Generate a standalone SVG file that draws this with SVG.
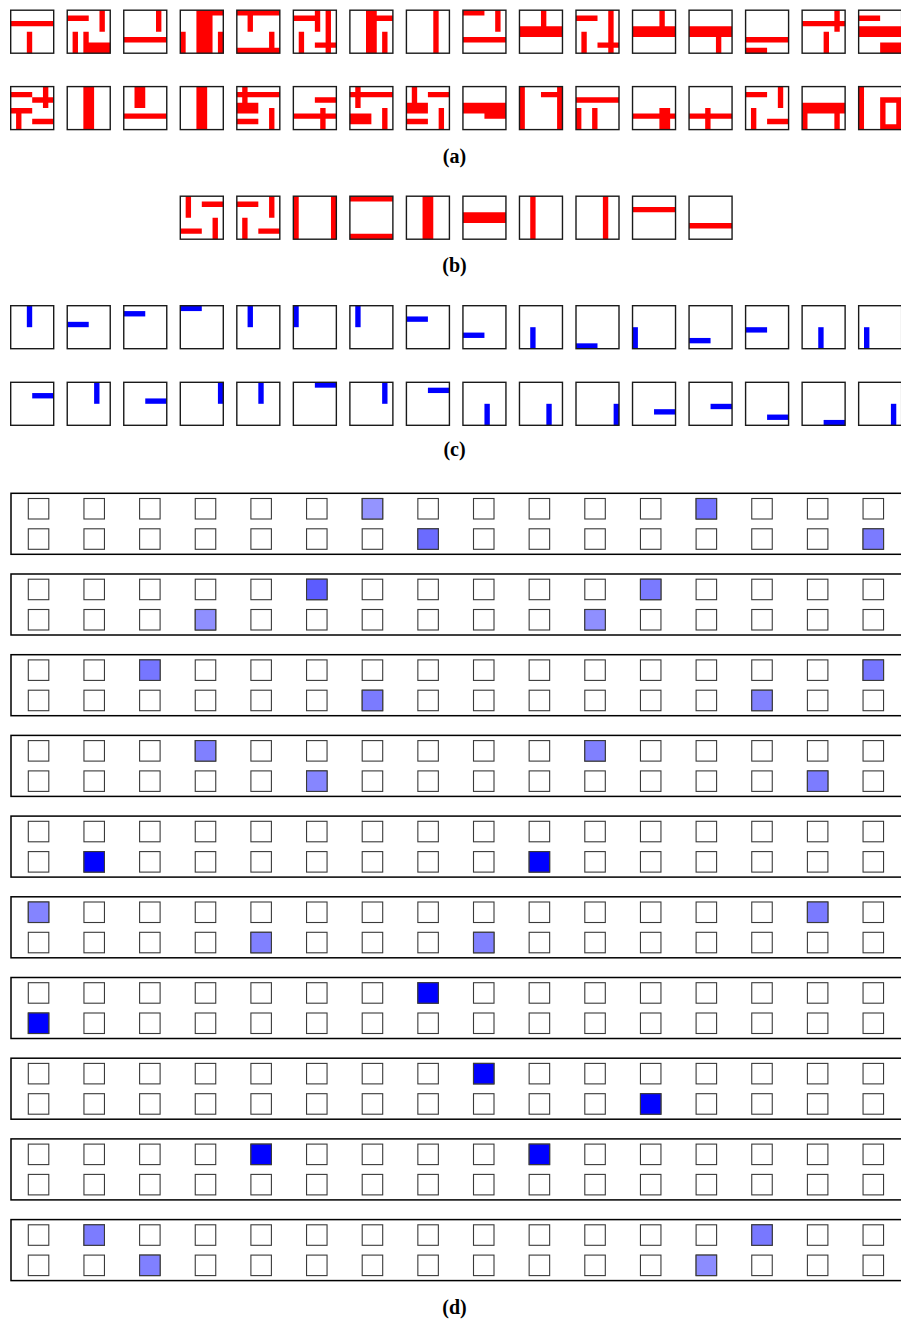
<svg xmlns="http://www.w3.org/2000/svg" xmlns:xlink="http://www.w3.org/1999/xlink" width="901" height="1320" viewBox="0 0 901 1320">
<style>
.fr{fill:none;stroke:#1a1a1a;stroke-width:1.4}
.r{fill:#ff0000}
.b{fill:#0000ff}
.ds{fill:#ffffff;stroke:#3a3a3a;stroke-width:1.1}
.pn{fill:#ffffff;stroke:#000000;stroke-width:1.5}
.lb{font-family:"Liberation Serif","Times New Roman",serif;font-weight:bold;font-size:20px;text-anchor:middle;fill:#000}
</style>
<defs>
<g id="drow">
<rect class="ds" x="28.3" y="0" width="20.5" height="20.5"/>
<rect class="ds" x="83.95" y="0" width="20.5" height="20.5"/>
<rect class="ds" x="139.6" y="0" width="20.5" height="20.5"/>
<rect class="ds" x="195.25" y="0" width="20.5" height="20.5"/>
<rect class="ds" x="250.9" y="0" width="20.5" height="20.5"/>
<rect class="ds" x="306.55" y="0" width="20.5" height="20.5"/>
<rect class="ds" x="362.2" y="0" width="20.5" height="20.5"/>
<rect class="ds" x="417.85" y="0" width="20.5" height="20.5"/>
<rect class="ds" x="473.5" y="0" width="20.5" height="20.5"/>
<rect class="ds" x="529.15" y="0" width="20.5" height="20.5"/>
<rect class="ds" x="584.8" y="0" width="20.5" height="20.5"/>
<rect class="ds" x="640.45" y="0" width="20.5" height="20.5"/>
<rect class="ds" x="696.1" y="0" width="20.5" height="20.5"/>
<rect class="ds" x="751.75" y="0" width="20.5" height="20.5"/>
<rect class="ds" x="807.4" y="0" width="20.5" height="20.5"/>
<rect class="ds" x="863.05" y="0" width="20.5" height="20.5"/>
</g>
</defs>
<rect x="0" y="0" width="901" height="1320" fill="#ffffff"/>

<!-- (a) row 1 -->
<g id="a01"><path class="r" transform="translate(10.7 10.2) scale(5.375)" d="M0 2h8v1h-8z M3 4h1v4h-1z"/><rect class="fr" x="10.7" y="10.2" width="43" height="43"/></g>
<g id="a02"><path class="r" transform="translate(67.23 10.2) scale(5.375)" d="M0 1h4v1h-4z M6 0h1v4h-1z M1 4h1v4h-1z M3 4h1v4h-1z M3 6h5v2h-5z"/><rect class="fr" x="67.23" y="10.2" width="43" height="43"/></g>
<g id="a03"><path class="r" transform="translate(123.76 10.2) scale(5.375)" d="M6 0h1v4h-1z M0 5h8v1h-8z"/><rect class="fr" x="123.76" y="10.2" width="43" height="43"/></g>
<g id="a04"><path class="r" transform="translate(180.29 10.2) scale(5.375)" d="M3 0h3v8h-3z M3 0h5v1h-5z M0 4h1v4h-1z M7 4h1v4h-1z"/><rect class="fr" x="180.29" y="10.2" width="43" height="43"/></g>
<g id="a05"><path class="r" transform="translate(236.82 10.2) scale(5.375)" d="M0 0h8v1h-8z M2 0h1v4h-1z M6 4h1v3h-1z M0 7h8v1h-8z"/><rect class="fr" x="236.82" y="10.2" width="43" height="43"/></g>
<g id="a06"><path class="r" transform="translate(293.35 10.2) scale(5.375)" d="M0 1h5v1h-5z M4 0h1v4h-1z M6 0h1v8h-1z M1 4h1v4h-1z M4 6h4v1h-4z"/><rect class="fr" x="293.35" y="10.2" width="43" height="43"/></g>
<g id="a07"><path class="r" transform="translate(349.88 10.2) scale(5.375)" d="M3 0h2v8h-2z M5 1h3v1h-3z M6 4h1v4h-1z"/><rect class="fr" x="349.88" y="10.2" width="43" height="43"/></g>
<g id="a08"><path class="r" transform="translate(406.41 10.2) scale(5.375)" d="M5 0h1v8h-1z"/><rect class="fr" x="406.41" y="10.2" width="43" height="43"/></g>
<g id="a09"><path class="r" transform="translate(462.94 10.2) scale(5.375)" d="M0 0h4v1h-4z M6 0h1v4h-1z M0 5h8v1h-8z"/><rect class="fr" x="462.94" y="10.2" width="43" height="43"/></g>
<g id="a10"><path class="r" transform="translate(519.47 10.2) scale(5.375)" d="M4 0h1v3h-1z M0 3h8v2h-8z"/><rect class="fr" x="519.47" y="10.2" width="43" height="43"/></g>
<g id="a11"><path class="r" transform="translate(576 10.2) scale(5.375)" d="M0 1h4v1h-4z M6 0h1v8h-1z M1 4h1v4h-1z M4 6h4v1h-4z"/><rect class="fr" x="576" y="10.2" width="43" height="43"/></g>
<g id="a12"><path class="r" transform="translate(632.53 10.2) scale(5.375)" d="M5 0h1v3h-1z M0 3h8v2h-8z"/><rect class="fr" x="632.53" y="10.2" width="43" height="43"/></g>
<g id="a13"><path class="r" transform="translate(689.06 10.2) scale(5.375)" d="M0 3h8v2h-8z M5 5h1v3h-1z"/><rect class="fr" x="689.06" y="10.2" width="43" height="43"/></g>
<g id="a14"><path class="r" transform="translate(745.59 10.2) scale(5.375)" d="M0 5h8v1h-8z M0 7h4v1h-4z"/><rect class="fr" x="745.59" y="10.2" width="43" height="43"/></g>
<g id="a15"><path class="r" transform="translate(802.12 10.2) scale(5.375)" d="M0 2h8v1h-8z M6 0h1v4h-1z M4 4h1v4h-1z"/><rect class="fr" x="802.12" y="10.2" width="43" height="43"/></g>
<g id="a16"><path class="r" transform="translate(858.65 10.2) scale(5.375)" d="M0 1h4v1h-4z M0 3h8v2h-8z M4 6h4v2h-4z"/><rect class="fr" x="858.65" y="10.2" width="43" height="43"/></g>

<!-- (a) row 2 -->
<g id="a17"><path class="r" transform="translate(10.7 86.6) scale(5.375)" d="M0 1h4v1h-4z M6 0h1v4h-1z M4 2h4v1h-4z M0 4h4v1h-4z M1 4h1v4h-1z M4 6h4v1h-4z"/><rect class="fr" x="10.7" y="86.6" width="43" height="43"/></g>
<g id="a18"><path class="r" transform="translate(67.23 86.6) scale(5.375)" d="M3 0h2v8h-2z"/><rect class="fr" x="67.23" y="86.6" width="43" height="43"/></g>
<g id="a19"><path class="r" transform="translate(123.76 86.6) scale(5.375)" d="M2 0h2v4h-2z M0 5h8v1h-8z"/><rect class="fr" x="123.76" y="86.6" width="43" height="43"/></g>
<g id="a20"><path class="r" transform="translate(180.29 86.6) scale(5.375)" d="M3 0h2v8h-2z"/><rect class="fr" x="180.29" y="86.6" width="43" height="43"/></g>
<g id="a21"><path class="r" transform="translate(236.82 86.6) scale(5.375)" d="M0 1h8v1h-8z M1 0h1v3h-1z M0 3h4v2h-4z M0 6h4v1h-4z M6 4h1v4h-1z"/><rect class="fr" x="236.82" y="86.6" width="43" height="43"/></g>
<g id="a22"><path class="r" transform="translate(293.35 86.6) scale(5.375)" d="M4 2h4v1h-4z M0 5h8v1h-8z M5 4h1v4h-1z"/><rect class="fr" x="293.35" y="86.6" width="43" height="43"/></g>
<g id="a23"><path class="r" transform="translate(349.88 86.6) scale(5.375)" d="M0 1h8v1h-8z M1 0h1v4h-1z M0 5h4v2h-4z M6 4h1v4h-1z"/><rect class="fr" x="349.88" y="86.6" width="43" height="43"/></g>
<g id="a24"><path class="r" transform="translate(406.41 86.6) scale(5.375)" d="M1 0h1v3h-1z M4 1h4v1h-4z M0 3h4v2h-4z M0 6h4v1h-4z M6 4h1v4h-1z"/><rect class="fr" x="406.41" y="86.6" width="43" height="43"/></g>
<g id="a25"><path class="r" transform="translate(462.94 86.6) scale(5.375)" d="M0 3h8v2h-8z M4 3h4v3h-4z"/><rect class="fr" x="462.94" y="86.6" width="43" height="43"/></g>
<g id="a26"><path class="r" transform="translate(519.47 86.6) scale(5.375)" d="M0 0h1v8h-1z M7 0h1v8h-1z M4 1h4v1h-4z"/><rect class="fr" x="519.47" y="86.6" width="43" height="43"/></g>
<g id="a27"><path class="r" transform="translate(576 86.6) scale(5.375)" d="M0 2h8v1h-8z M0 4h1v4h-1z M3 4h1v4h-1z"/><rect class="fr" x="576" y="86.6" width="43" height="43"/></g>
<g id="a28"><path class="r" transform="translate(632.53 86.6) scale(5.375)" d="M0 5h8v1h-8z M5 4h2v4h-2z"/><rect class="fr" x="632.53" y="86.6" width="43" height="43"/></g>
<g id="a29"><path class="r" transform="translate(689.06 86.6) scale(5.375)" d="M0 5h8v1h-8z M3 4h1v4h-1z"/><rect class="fr" x="689.06" y="86.6" width="43" height="43"/></g>
<g id="a30"><path class="r" transform="translate(745.59 86.6) scale(5.375)" d="M0 1h4v1h-4z M6 0h1v4h-1z M1 4h1v4h-1z M4 6h4v1h-4z"/><rect class="fr" x="745.59" y="86.6" width="43" height="43"/></g>
<g id="a31"><path class="r" transform="translate(802.12 86.6) scale(5.375)" d="M0 3h8v2h-8z M0 5h1v3h-1z M6 5h1v3h-1z"/><rect class="fr" x="802.12" y="86.6" width="43" height="43"/></g>
<g id="a32"><path class="r" transform="translate(858.65 86.6) scale(5.375)" d="M0 0h1v8h-1z M4 2h4v1h-4z M4 2h1v6h-1z M7 2h1v6h-1z M4 7h4v1h-4z"/><rect class="fr" x="858.65" y="86.6" width="43" height="43"/></g>
<text class="lb" x="454.5" y="162.5">(a)</text>

<!-- (b) -->
<g id="b01"><path class="r" transform="translate(180.29 196.2) scale(5.375)" d="M1 0h1v4h-1z M4 1h4v1h-4z M0 6h4v1h-4z M6 4h1v4h-1z"/><rect class="fr" x="180.29" y="196.2" width="43" height="43"/></g>
<g id="b02"><path class="r" transform="translate(236.82 196.2) scale(5.375)" d="M0 1h4v1h-4z M6 0h1v4h-1z M1 4h1v4h-1z M4 6h4v1h-4z"/><rect class="fr" x="236.82" y="196.2" width="43" height="43"/></g>
<g id="b03"><path class="r" transform="translate(293.35 196.2) scale(5.375)" d="M0 0h1v8h-1z M7 0h1v8h-1z"/><rect class="fr" x="293.35" y="196.2" width="43" height="43"/></g>
<g id="b04"><path class="r" transform="translate(349.88 196.2) scale(5.375)" d="M0 0h8v1h-8z M0 7h8v1h-8z"/><rect class="fr" x="349.88" y="196.2" width="43" height="43"/></g>
<g id="b05"><path class="r" transform="translate(406.41 196.2) scale(5.375)" d="M3 0h2v8h-2z"/><rect class="fr" x="406.41" y="196.2" width="43" height="43"/></g>
<g id="b06"><path class="r" transform="translate(462.94 196.2) scale(5.375)" d="M0 3h8v2h-8z"/><rect class="fr" x="462.94" y="196.2" width="43" height="43"/></g>
<g id="b07"><path class="r" transform="translate(519.47 196.2) scale(5.375)" d="M2 0h1v8h-1z"/><rect class="fr" x="519.47" y="196.2" width="43" height="43"/></g>
<g id="b08"><path class="r" transform="translate(576 196.2) scale(5.375)" d="M5 0h1v8h-1z"/><rect class="fr" x="576" y="196.2" width="43" height="43"/></g>
<g id="b09"><path class="r" transform="translate(632.53 196.2) scale(5.375)" d="M0 2h8v1h-8z"/><rect class="fr" x="632.53" y="196.2" width="43" height="43"/></g>
<g id="b10"><path class="r" transform="translate(689.06 196.2) scale(5.375)" d="M0 5h8v1h-8z"/><rect class="fr" x="689.06" y="196.2" width="43" height="43"/></g>
<text class="lb" x="454.5" y="271.5">(b)</text>

<!-- (c) row 1 -->
<g id="c01"><path class="b" transform="translate(10.7 305.7) scale(5.375)" d="M3 0h1v4h-1z"/><rect class="fr" x="10.7" y="305.7" width="43" height="43"/></g>
<g id="c02"><path class="b" transform="translate(67.23 305.7) scale(5.375)" d="M0 3h4v1h-4z"/><rect class="fr" x="67.23" y="305.7" width="43" height="43"/></g>
<g id="c03"><path class="b" transform="translate(123.76 305.7) scale(5.375)" d="M0 1h4v1h-4z"/><rect class="fr" x="123.76" y="305.7" width="43" height="43"/></g>
<g id="c04"><path class="b" transform="translate(180.29 305.7) scale(5.375)" d="M0 0h4v1h-4z"/><rect class="fr" x="180.29" y="305.7" width="43" height="43"/></g>
<g id="c05"><path class="b" transform="translate(236.82 305.7) scale(5.375)" d="M2 0h1v4h-1z"/><rect class="fr" x="236.82" y="305.7" width="43" height="43"/></g>
<g id="c06"><path class="b" transform="translate(293.35 305.7) scale(5.375)" d="M0 0h1v4h-1z"/><rect class="fr" x="293.35" y="305.7" width="43" height="43"/></g>
<g id="c07"><path class="b" transform="translate(349.88 305.7) scale(5.375)" d="M1 0h1v4h-1z"/><rect class="fr" x="349.88" y="305.7" width="43" height="43"/></g>
<g id="c08"><path class="b" transform="translate(406.41 305.7) scale(5.375)" d="M0 2h4v1h-4z"/><rect class="fr" x="406.41" y="305.7" width="43" height="43"/></g>
<g id="c09"><path class="b" transform="translate(462.94 305.7) scale(5.375)" d="M0 5h4v1h-4z"/><rect class="fr" x="462.94" y="305.7" width="43" height="43"/></g>
<g id="c10"><path class="b" transform="translate(519.47 305.7) scale(5.375)" d="M2 4h1v4h-1z"/><rect class="fr" x="519.47" y="305.7" width="43" height="43"/></g>
<g id="c11"><path class="b" transform="translate(576 305.7) scale(5.375)" d="M0 7h4v1h-4z"/><rect class="fr" x="576" y="305.7" width="43" height="43"/></g>
<g id="c12"><path class="b" transform="translate(632.53 305.7) scale(5.375)" d="M0 4h1v4h-1z"/><rect class="fr" x="632.53" y="305.7" width="43" height="43"/></g>
<g id="c13"><path class="b" transform="translate(689.06 305.7) scale(5.375)" d="M0 6h4v1h-4z"/><rect class="fr" x="689.06" y="305.7" width="43" height="43"/></g>
<g id="c14"><path class="b" transform="translate(745.59 305.7) scale(5.375)" d="M0 4h4v1h-4z"/><rect class="fr" x="745.59" y="305.7" width="43" height="43"/></g>
<g id="c15"><path class="b" transform="translate(802.12 305.7) scale(5.375)" d="M3 4h1v4h-1z"/><rect class="fr" x="802.12" y="305.7" width="43" height="43"/></g>
<g id="c16"><path class="b" transform="translate(858.65 305.7) scale(5.375)" d="M1 4h1v4h-1z"/><rect class="fr" x="858.65" y="305.7" width="43" height="43"/></g>

<!-- (c) row 2 -->
<g id="c17"><path class="b" transform="translate(10.7 382.3) scale(5.375)" d="M4 2h4v1h-4z"/><rect class="fr" x="10.7" y="382.3" width="43" height="43"/></g>
<g id="c18"><path class="b" transform="translate(67.23 382.3) scale(5.375)" d="M5 0h1v4h-1z"/><rect class="fr" x="67.23" y="382.3" width="43" height="43"/></g>
<g id="c19"><path class="b" transform="translate(123.76 382.3) scale(5.375)" d="M4 3h4v1h-4z"/><rect class="fr" x="123.76" y="382.3" width="43" height="43"/></g>
<g id="c20"><path class="b" transform="translate(180.29 382.3) scale(5.375)" d="M7 0h1v4h-1z"/><rect class="fr" x="180.29" y="382.3" width="43" height="43"/></g>
<g id="c21"><path class="b" transform="translate(236.82 382.3) scale(5.375)" d="M4 0h1v4h-1z"/><rect class="fr" x="236.82" y="382.3" width="43" height="43"/></g>
<g id="c22"><path class="b" transform="translate(293.35 382.3) scale(5.375)" d="M4 0h4v1h-4z"/><rect class="fr" x="293.35" y="382.3" width="43" height="43"/></g>
<g id="c23"><path class="b" transform="translate(349.88 382.3) scale(5.375)" d="M6 0h1v4h-1z"/><rect class="fr" x="349.88" y="382.3" width="43" height="43"/></g>
<g id="c24"><path class="b" transform="translate(406.41 382.3) scale(5.375)" d="M4 1h4v1h-4z"/><rect class="fr" x="406.41" y="382.3" width="43" height="43"/></g>
<g id="c25"><path class="b" transform="translate(462.94 382.3) scale(5.375)" d="M4 4h1v4h-1z"/><rect class="fr" x="462.94" y="382.3" width="43" height="43"/></g>
<g id="c26"><path class="b" transform="translate(519.47 382.3) scale(5.375)" d="M5 4h1v4h-1z"/><rect class="fr" x="519.47" y="382.3" width="43" height="43"/></g>
<g id="c27"><path class="b" transform="translate(576 382.3) scale(5.375)" d="M7 4h1v4h-1z"/><rect class="fr" x="576" y="382.3" width="43" height="43"/></g>
<g id="c28"><path class="b" transform="translate(632.53 382.3) scale(5.375)" d="M4 5h4v1h-4z"/><rect class="fr" x="632.53" y="382.3" width="43" height="43"/></g>
<g id="c29"><path class="b" transform="translate(689.06 382.3) scale(5.375)" d="M4 4h4v1h-4z"/><rect class="fr" x="689.06" y="382.3" width="43" height="43"/></g>
<g id="c30"><path class="b" transform="translate(745.59 382.3) scale(5.375)" d="M4 6h4v1h-4z"/><rect class="fr" x="745.59" y="382.3" width="43" height="43"/></g>
<g id="c31"><path class="b" transform="translate(802.12 382.3) scale(5.375)" d="M4 7h4v1h-4z"/><rect class="fr" x="802.12" y="382.3" width="43" height="43"/></g>
<g id="c32"><path class="b" transform="translate(858.65 382.3) scale(5.375)" d="M6 4h1v4h-1z"/><rect class="fr" x="858.65" y="382.3" width="43" height="43"/></g>
<text class="lb" x="454.5" y="456">(c)</text>

<!-- (d) -->
<g id="d01"><rect class="pn" x="11" y="493.3" width="900" height="61"/><use xlink:href="#drow" href="#drow" y="498.5"/><use xlink:href="#drow" href="#drow" y="528.8"/>
<rect class="ds" style="fill:#9494ff" x="362.2" y="498.5" width="20.5" height="20.5"/><rect class="ds" style="fill:#7373ff" x="696.1" y="498.5" width="20.5" height="20.5"/>
<rect class="ds" style="fill:#6b6bff" x="417.85" y="528.8" width="20.5" height="20.5"/><rect class="ds" style="fill:#7b7bff" x="863.05" y="528.8" width="20.5" height="20.5"/></g>
<g id="d02"><rect class="pn" x="11" y="574" width="900" height="61"/><use xlink:href="#drow" href="#drow" y="579.2"/><use xlink:href="#drow" href="#drow" y="609.5"/>
<rect class="ds" style="fill:#5c5cff" x="306.55" y="579.2" width="20.5" height="20.5"/><rect class="ds" style="fill:#7a7aff" x="640.45" y="579.2" width="20.5" height="20.5"/>
<rect class="ds" style="fill:#8f8fff" x="195.25" y="609.5" width="20.5" height="20.5"/><rect class="ds" style="fill:#8f8fff" x="584.8" y="609.5" width="20.5" height="20.5"/></g>
<g id="d03"><rect class="pn" x="11" y="654.7" width="900" height="61"/><use xlink:href="#drow" href="#drow" y="659.9"/><use xlink:href="#drow" href="#drow" y="690.2"/>
<rect class="ds" style="fill:#7676ff" x="139.6" y="659.9" width="20.5" height="20.5"/><rect class="ds" style="fill:#7676ff" x="863.05" y="659.9" width="20.5" height="20.5"/>
<rect class="ds" style="fill:#7b7bff" x="362.2" y="690.2" width="20.5" height="20.5"/><rect class="ds" style="fill:#8181ff" x="751.75" y="690.2" width="20.5" height="20.5"/></g>
<g id="d04"><rect class="pn" x="11" y="735.4" width="900" height="61"/><use xlink:href="#drow" href="#drow" y="740.6"/><use xlink:href="#drow" href="#drow" y="770.9"/>
<rect class="ds" style="fill:#8080ff" x="195.25" y="740.6" width="20.5" height="20.5"/><rect class="ds" style="fill:#8080ff" x="584.8" y="740.6" width="20.5" height="20.5"/>
<rect class="ds" style="fill:#8686ff" x="306.55" y="770.9" width="20.5" height="20.5"/><rect class="ds" style="fill:#7c7cff" x="807.4" y="770.9" width="20.5" height="20.5"/></g>
<g id="d05"><rect class="pn" x="11" y="816.1" width="900" height="61"/><use xlink:href="#drow" href="#drow" y="821.3"/><use xlink:href="#drow" href="#drow" y="851.6"/>
<rect class="ds" style="fill:#0000ff" x="83.95" y="851.6" width="20.5" height="20.5"/><rect class="ds" style="fill:#0000ff" x="529.15" y="851.6" width="20.5" height="20.5"/></g>
<g id="d06"><rect class="pn" x="11" y="896.8" width="900" height="61"/><use xlink:href="#drow" href="#drow" y="902"/><use xlink:href="#drow" href="#drow" y="932.3"/>
<rect class="ds" style="fill:#8484ff" x="28.3" y="902" width="20.5" height="20.5"/><rect class="ds" style="fill:#7a7aff" x="807.4" y="902" width="20.5" height="20.5"/>
<rect class="ds" style="fill:#8080ff" x="250.9" y="932.3" width="20.5" height="20.5"/><rect class="ds" style="fill:#8080ff" x="473.5" y="932.3" width="20.5" height="20.5"/></g>
<g id="d07"><rect class="pn" x="11" y="977.5" width="900" height="61"/><use xlink:href="#drow" href="#drow" y="982.7"/><use xlink:href="#drow" href="#drow" y="1013"/>
<rect class="ds" style="fill:#0000ff" x="417.85" y="982.7" width="20.5" height="20.5"/>
<rect class="ds" style="fill:#0000ff" x="28.3" y="1013" width="20.5" height="20.5"/></g>
<g id="d08"><rect class="pn" x="11" y="1058.2" width="900" height="61"/><use xlink:href="#drow" href="#drow" y="1063.4"/><use xlink:href="#drow" href="#drow" y="1093.7"/>
<rect class="ds" style="fill:#0000ff" x="473.5" y="1063.4" width="20.5" height="20.5"/>
<rect class="ds" style="fill:#0000ff" x="640.45" y="1093.7" width="20.5" height="20.5"/></g>
<g id="d09"><rect class="pn" x="11" y="1138.9" width="900" height="61"/><use xlink:href="#drow" href="#drow" y="1144.1"/><use xlink:href="#drow" href="#drow" y="1174.4"/>
<rect class="ds" style="fill:#0000ff" x="250.9" y="1144.1" width="20.5" height="20.5"/><rect class="ds" style="fill:#0000ff" x="529.15" y="1144.1" width="20.5" height="20.5"/></g>
<g id="d10"><rect class="pn" x="11" y="1219.6" width="900" height="61"/><use xlink:href="#drow" href="#drow" y="1224.8"/><use xlink:href="#drow" href="#drow" y="1255.1"/>
<rect class="ds" style="fill:#7c7cff" x="83.95" y="1224.8" width="20.5" height="20.5"/><rect class="ds" style="fill:#7878ff" x="751.75" y="1224.8" width="20.5" height="20.5"/>
<rect class="ds" style="fill:#8080ff" x="139.6" y="1255.1" width="20.5" height="20.5"/><rect class="ds" style="fill:#8c8cff" x="696.1" y="1255.1" width="20.5" height="20.5"/></g>
<text class="lb" x="454.5" y="1313.5">(d)</text>
</svg>
